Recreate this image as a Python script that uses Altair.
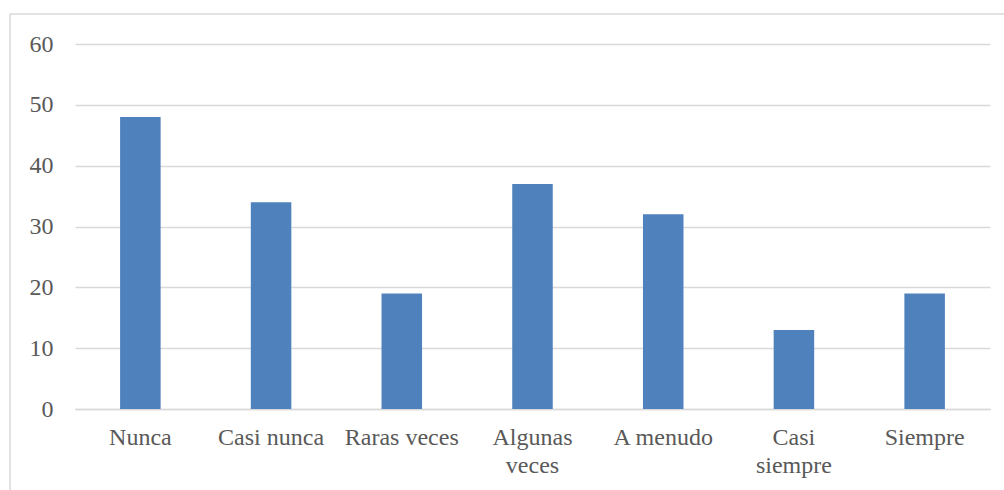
import altair as alt
import pandas as pd

# Frecuencia de respuestas por categoría
categorias = ["Nunca", "Casi nunca", "Raras veces", "Algunas veces",
              "A menudo", "Casi siempre", "Siempre"]
valores = [48, 34, 19, 37, 32, 13, 19]
y_ticks = [0, 10, 20, 30, 40, 50, 60]

df = pd.DataFrame({"categoria": categorias, "valor": valores})

FONT = "Liberation Serif"
GRID = "#D9D9D9"
TEXT = "#595959"

# Etiquetas largas partidas en dos líneas
label_expr = (
    "datum.value == 'Algunas veces' || datum.value == 'Casi siempre'"
    " ? split(datum.value, ' ') : datum.value"
)

bars = alt.Chart(df).mark_bar(color="#4F81BD").encode(
    x=alt.X(
        "categoria:N",
        sort=categorias,
        title=None,
        scale=alt.Scale(paddingInner=0.69, paddingOuter=0.345),
        axis=alt.Axis(
            labelAngle=0,
            labelFont=FONT,
            labelFontSize=24,
            labelColor=TEXT,
            labelPadding=16,
            labelLineHeight=28,
            labelExpr=label_expr,
            ticks=False,
            domainColor=GRID,
            domainWidth=1.5,
            labelLimit=200,
        ),
    ),
    y=alt.Y(
        "valor:Q",
        title=None,
        scale=alt.Scale(domain=[0, 60], nice=False),
        axis=alt.Axis(
            values=y_ticks,
            labelFont=FONT,
            labelFontSize=24,
            labelColor=TEXT,
            labelPadding=22,
            ticks=False,
            domain=False,
            gridColor=GRID,
            gridWidth=1.5,
        ),
    ),
)

# Marco exterior del gráfico
frame = alt.Chart(alt.Data(values=[{}])).mark_rect(
    fill=None, stroke=GRID, strokeWidth=1.5
).encode(
    x=alt.value(-65),
    x2=alt.value(940),
    y=alt.value(-30),
    y2=alt.value(460),
)

chart = alt.layer(frame, bars).properties(
    width=915,
    height=365,
    autosize=alt.AutoSizeParams(type="none"),
    padding={"left": 75, "top": 44, "right": 14, "bottom": 81},
    background="white",
).configure_view(stroke=None)

chart.save("out.html", embed_options={"renderer": "svg", "actions": False})
